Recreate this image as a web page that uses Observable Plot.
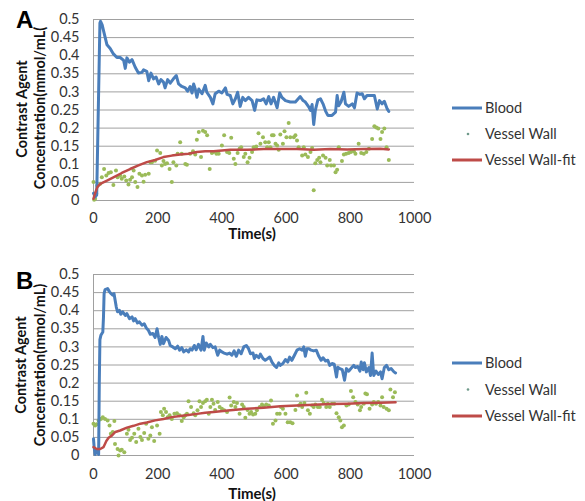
<!DOCTYPE html>
<html><head><meta charset="utf-8">
<script src="https://cdn.jsdelivr.net/npm/d3@7"></script>
<script src="https://cdn.jsdelivr.net/npm/@observablehq/plot@0.6"></script>
<style>
body{margin:0;background:#fff;font-family:Lato,sans-serif;color:#333;}
#wrap{position:relative;width:585px;height:501px;overflow:hidden;background:#fff;}
.pnl{position:absolute;left:0;}
.t{position:absolute;white-space:nowrap;line-height:1;}
.rot{transform:translate(-50%,-50%) rotate(-90deg);font-weight:bold;font-size:14.5px;color:#111;}
.cen{transform:translate(-50%,-50%);font-weight:bold;font-size:15px;color:#111;}
.letter{font-weight:bold;font-size:24px;color:#000;font-family:Arial,"Liberation Sans",sans-serif;}
.leg{font-size:14.5px;color:#333;transform:translateY(-50%);}
</style></head><body><div id="wrap"></div>
<script>
const xTicks = [0,200,400,600,800,1000];
const yTicks = [0,0.05,0.1,0.15,0.2,0.25,0.3,0.35,0.4,0.45,0.5];
const seriesNames = ["Blood","Vessel Wall","Vessel Wall-fit"];
const colors = {blood:"#4a7ebb", wall:"#9bbb59", fit:"#be4b48"};
const yLabel = {A:["Contrast  Agent","Concentration(mmol/mL("], B:["Contrast  Agent","Concentration(mmol/mL)"]};
const xLabel = "Time(s)";

// Panel A
const bloodA = [[0,0.02],[5,0.01],[10,0.015],[20,0.49],[22,0.495],[27,0.485],[31,0.47],[42,0.43],[52,0.42],[62,0.405],[73,0.395],[83,0.395],[94,0.387],[99,0.365],[104,0.394],[112,0.382],[120,0.389],[130,0.368],[140,0.352],[151,0.354],[156,0.361],[166,0.357],[172,0.331],[179,0.352],[187,0.336],[195,0.341],[203,0.322],[210,0.334],[218,0.327],[223,0.311],[231,0.334],[239,0.324],[249,0.336],[258,0.345],[265,0.322],[275,0.315],[286,0.311],[293,0.302],[301,0.315],[307,0.297],[312,0.322],[317,0.308],[322,0.285],[328,0.308],[338,0.295],[348,0.318],[353,0.299],[364,0.285],[372,0.267],[379,0.295],[390,0.302],[400,0.297],[411,0.311],[416,0.293],[426,0.29],[434,0.267],[442,0.281],[449,0.299],[457,0.26],[465,0.285],[473,0.276],[483,0.285],[494,0.276],[502,0.249],[509,0.278],[520,0.276],[530,0.281],[538,0.267],[546,0.287],[553,0.267],[561,0.285],[572,0.256],[580,0.297],[587,0.285],[598,0.276],[613,0.272],[629,0.272],[644,0.287],[653,0.276],[660,0.272],[671,0.258],[676,0.249],[681,0.265],[686,0.21],[691,0.249],[699,0.278],[707,0.281],[715,0.267],[723,0.247],[730,0.235],[743,0.235],[754,0.244],[759,0.29],[764,0.262],[771,0.272],[780,0.299],[785,0.267],[795,0.26],[806,0.267],[813,0.256],[821,0.297],[830,0.293],[837,0.295],[844,0.281],[852,0.29],[863,0.29],[875,0.29],[884,0.253],[891,0.276],[899,0.267],[906,0.274],[915,0.253],[920,0.246]];
const wallA = [[0,0.051],[2,0.002],[5,0.005],[8,0.02],[12,0.041],[21,0.046],[26,0.064],[33,0.087],[40,0.069],[47,0.076],[54,0.078],[62,0.043],[70,0.083],[75,0.064],[83,0.069],[88,0.06],[96,0.066],[102,0.055],[109,0.044],[114,0.057],[120,0.064],[125,0.083],[130,0.051],[137,0.037],[143,0.074],[151,0.069],[156,0.052],[161,0.071],[172,0.074],[177,0.106],[182,0.106],[192,0.11],[198,0.138],[208,0.131],[213,0.097],[218,0.109],[223,0.101],[229,0.103],[237,0.087],[244,0.051],[249,0.106],[258,0.097],[262,0.129],[270,0.161],[275,0.129],[286,0.101],[291,0.099],[301,0.129],[310,0.136],[317,0.127],[322,0.168],[328,0.189],[335,0.12],[341,0.193],[348,0.189],[354,0.18],[362,0.087],[369,0.131],[374,0.134],[383,0.129],[390,0.129],[400,0.152],[407,0.18],[416,0.134],[423,0.131],[429,0.173],[437,0.115],[442,0.101],[449,0.131],[455,0.143],[460,0.147],[468,0.12],[473,0.129],[480,0.106],[486,0.118],[494,0.134],[499,0.147],[507,0.149],[514,0.186],[520,0.157],[528,0.175],[535,0.161],[541,0.147],[546,0.161],[551,0.147],[556,0.18],[561,0.18],[567,0.157],[572,0.152],[577,0.14],[582,0.182],[590,0.157],[595,0.191],[601,0.175],[608,0.214],[613,0.175],[624,0.175],[629,0.18],[634,0.166],[639,0.147],[650,0.124],[655,0.147],[660,0.127],[668,0.12],[676,0.134],[681,0.145],[686,0.028],[691,0.103],[697,0.112],[703,0.118],[707,0.106],[715,0.124],[723,0.118],[728,0.097],[736,0.112],[740,0.097],[749,0.097],[754,0.078],[759,0.085],[764,0.147],[774,0.109],[780,0.127],[787,0.129],[795,0.131],[802,0.134],[811,0.136],[816,0.129],[826,0.157],[834,0.131],[842,0.129],[850,0.134],[858,0.143],[868,0.17],[875,0.205],[881,0.202],[887,0.199],[894,0.17],[899,0.189],[906,0.199],[913,0.147],[920,0.112]];
const fitA = [[0,0.005],[5,0.02],[12,0.037],[21,0.046],[42,0.055],[62,0.064],[88,0.076],[114,0.087],[140,0.097],[166,0.106],[192,0.112],[218,0.12],[244,0.124],[270,0.127],[296,0.129],[322,0.134],[348,0.136],[374,0.136],[426,0.14],[478,0.14],[530,0.142],[582,0.142],[634,0.142],[686,0.14],[738,0.142],[790,0.141],[842,0.142],[894,0.143],[920,0.141]];

// Panel B
const bloodB = [[0,0.046],[2,0.023],[5,0.003],[10,0.014],[16,0.003],[18,0.2],[20,0.32],[23,0.332],[29,0.341],[31,0.38],[33,0.447],[36,0.458],[44,0.461],[50,0.452],[55,0.447],[60,0.443],[64,0.447],[67,0.431],[71,0.41],[75,0.397],[81,0.401],[85,0.39],[91,0.397],[99,0.387],[104,0.392],[112,0.378],[120,0.383],[125,0.372],[130,0.378],[137,0.366],[143,0.369],[151,0.36],[158,0.364],[164,0.353],[171,0.346],[177,0.335],[185,0.337],[192,0.326],[198,0.35],[203,0.326],[208,0.307],[213,0.329],[218,0.309],[226,0.326],[234,0.318],[239,0.304],[247,0.3],[255,0.295],[262,0.302],[268,0.291],[275,0.298],[281,0.286],[289,0.292],[296,0.286],[301,0.295],[307,0.291],[314,0.304],[320,0.292],[327,0.307],[335,0.291],[341,0.329],[345,0.291],[351,0.311],[359,0.3],[364,0.307],[372,0.298],[379,0.3],[387,0.277],[393,0.291],[400,0.286],[407,0.283],[416,0.28],[424,0.283],[431,0.277],[438,0.289],[445,0.274],[452,0.291],[460,0.281],[468,0.3],[476,0.304],[483,0.295],[489,0.281],[497,0.283],[501,0.268],[507,0.277],[515,0.27],[520,0.28],[528,0.268],[535,0.263],[543,0.268],[549,0.272],[556,0.258],[563,0.249],[570,0.243],[577,0.256],[582,0.249],[590,0.254],[598,0.265],[605,0.258],[611,0.272],[618,0.263],[626,0.277],[634,0.291],[642,0.295],[650,0.291],[655,0.3],[660,0.274],[665,0.295],[671,0.295],[678,0.291],[686,0.289],[694,0.291],[702,0.274],[709,0.263],[715,0.27],[723,0.261],[730,0.263],[736,0.249],[743,0.254],[750,0.252],[757,0.217],[761,0.244],[767,0.24],[775,0.237],[782,0.208],[788,0.24],[795,0.233],[802,0.24],[811,0.249],[816,0.243],[823,0.246],[830,0.233],[834,0.258],[840,0.237],[844,0.256],[850,0.231],[858,0.243],[863,0.221],[868,0.283],[873,0.221],[880,0.233],[887,0.224],[894,0.231],[899,0.212],[906,0.243],[913,0.249],[920,0.237],[927,0.24],[936,0.231],[941,0.228]];
const wallB = [[0,0.088],[5,0.083],[10,0.086],[16,0.097],[23,0.101],[29,0.106],[36,0.101],[44,0.097],[50,0.083],[54,0.06],[60,0.065],[65,0.095],[67,0.032],[75,0.018],[78,0.0],[83,0.014],[88,0.016],[96,0.009],[104,0.06],[109,0.071],[114,0.043],[120,0.049],[127,0.06],[133,0.037],[140,0.074],[146,0.051],[151,0.043],[158,0.062],[164,0.088],[171,0.046],[177,0.055],[182,0.078],[189,0.04],[198,0.083],[206,0.06],[210,0.12],[216,0.111],[220,0.129],[226,0.12],[231,0.106],[237,0.111],[244,0.101],[252,0.115],[260,0.117],[268,0.111],[275,0.095],[281,0.106],[286,0.111],[291,0.115],[296,0.15],[304,0.134],[312,0.117],[317,0.111],[324,0.125],[330,0.15],[335,0.134],[341,0.145],[348,0.15],[353,0.154],[359,0.115],[364,0.134],[369,0.154],[374,0.143],[379,0.126],[387,0.148],[393,0.134],[400,0.129],[407,0.125],[416,0.12],[424,0.16],[429,0.138],[437,0.148],[442,0.134],[447,0.145],[455,0.115],[463,0.141],[468,0.134],[473,0.104],[480,0.126],[486,0.115],[491,0.12],[497,0.113],[504,0.115],[509,0.125],[518,0.134],[525,0.141],[530,0.136],[538,0.141],[546,0.138],[553,0.152],[559,0.088],[567,0.097],[572,0.115],[580,0.115],[584,0.134],[590,0.129],[598,0.115],[605,0.092],[613,0.092],[620,0.089],[629,0.126],[634,0.166],[640,0.138],[645,0.143],[650,0.134],[657,0.145],[663,0.173],[668,0.125],[674,0.115],[681,0.138],[686,0.134],[691,0.141],[699,0.134],[705,0.134],[712,0.154],[717,0.145],[725,0.134],[730,0.143],[736,0.134],[743,0.143],[750,0.143],[757,0.117],[764,0.106],[769,0.097],[774,0.078],[780,0.083],[788,0.138],[795,0.141],[802,0.178],[809,0.161],[816,0.148],[823,0.141],[830,0.125],[834,0.134],[842,0.143],[847,0.171],[852,0.169],[860,0.129],[868,0.141],[873,0.148],[880,0.143],[887,0.148],[894,0.138],[899,0.161],[904,0.134],[913,0.129],[920,0.125],[925,0.182],[933,0.161],[939,0.175]];
const fitB = [[0,0.023],[10,0.018],[21,0.018],[31,0.023],[40,0.04],[47,0.049],[57,0.055],[68,0.065],[83,0.069],[104,0.077],[125,0.082],[146,0.088],[166,0.091],[192,0.097],[218,0.101],[244,0.106],[270,0.109],[296,0.112],[322,0.115],[348,0.118],[374,0.12],[426,0.125],[478,0.129],[530,0.132],[582,0.136],[634,0.138],[686,0.14],[738,0.142],[790,0.143],[842,0.145],[894,0.146],[941,0.147]];

const wrap = document.getElementById("wrap");

function panel(blood, wall, fit, o) {
  const p = Plot.plot({
    width: 585, height: o.h,
    marginLeft: 93, marginRight: 171, marginTop: o.mt, marginBottom: o.mb,
    x: {domain: [0, 1000], label: null},
    y: {domain: [0, 0.5], label: null},
    style: {fontFamily: "Lato, sans-serif", fontSize: "14px", color: "#333", background: "#fff"},
    marks: [
      Plot.ruleY(yTicks, {stroke: "#a0a0a0", strokeWidth: 1}),
      Plot.ruleX([0], {stroke: "#a0a0a0", strokeWidth: 1}),
      Plot.dot(wall, {x: d => d[0], y: d => d[1], r: 2, fill: colors.wall, stroke: null}),
      Plot.line(blood, {x: d => d[0], y: d => d[1], stroke: colors.blood, strokeWidth: 3, strokeLinejoin: "round"}),
      Plot.line(fit, {x: d => d[0], y: d => d[1], stroke: colors.fit, strokeWidth: 2.5}),
      Plot.axisX({ticks: xTicks, tickSize: 0, tickPadding: o.xpad, fontSize: 14.5, tickFormat: d => String(d), label: null}),
      Plot.axisY({ticks: yTicks, tickSize: 0, tickPadding: 14, fontSize: 14.5, tickFormat: d => String(+d.toFixed(2)), label: null})
    ]
  });
  p.classList.add("pnl");
  p.style.top = o.top + "px";
  wrap.appendChild(p);
}

function txt(s, cls, x, y) {
  const d = document.createElement("div");
  d.className = "t " + cls;
  d.textContent = s;
  d.style.left = x + "px";
  d.style.top = y + "px";
  wrap.appendChild(d);
  return d;
}

function legend(y0, gap) {
  const svgNS = "http://www.w3.org/2000/svg";
  const s = document.createElementNS(svgNS, "svg");
  s.setAttribute("width", 40); s.setAttribute("height", 2 * gap + 10);
  s.style.position = "absolute"; s.style.left = "448px"; s.style.top = (y0 - 5) + "px";
  const l1 = document.createElementNS(svgNS, "line");
  l1.setAttribute("x1", 4); l1.setAttribute("x2", 34); l1.setAttribute("y1", 5); l1.setAttribute("y2", 5);
  l1.setAttribute("stroke", colors.blood); l1.setAttribute("stroke-width", 3);
  const c = document.createElementNS(svgNS, "circle");
  c.setAttribute("cx", 20); c.setAttribute("cy", 5 + gap); c.setAttribute("r", 1.3);
  c.setAttribute("fill", "#6f9a8a");
  const l2 = document.createElementNS(svgNS, "line");
  l2.setAttribute("x1", 4); l2.setAttribute("x2", 34); l2.setAttribute("y1", 5 + 2 * gap); l2.setAttribute("y2", 5 + 2 * gap);
  l2.setAttribute("stroke", colors.fit); l2.setAttribute("stroke-width", 3);
  s.append(l1, c, l2);
  wrap.appendChild(s);
  seriesNames.forEach((n, i) => txt(n, "leg", 485, y0 + i * gap));
}

panel(bloodA, wallA, fitA, {top: 0, h: 250, mt: 19, mb: 50, xpad: 12});
panel(bloodB, wallB, fitB, {top: 250, h: 251, mt: 24, mb: 46, xpad: 13});

txt("A", "letter", 16, 8);
txt("B", "letter", 16, 269);
txt(yLabel.A[0], "rot", 22, 109);
txt(yLabel.A[1], "rot", 40, 108);
txt(yLabel.B[0], "rot", 21, 365);
txt(yLabel.B[1], "rot", 40, 365);
txt(xLabel, "cen", 252, 233);
txt(xLabel, "cen", 252, 493);
legend(108, 26);
legend(363, 26.5);
</script></body></html>
